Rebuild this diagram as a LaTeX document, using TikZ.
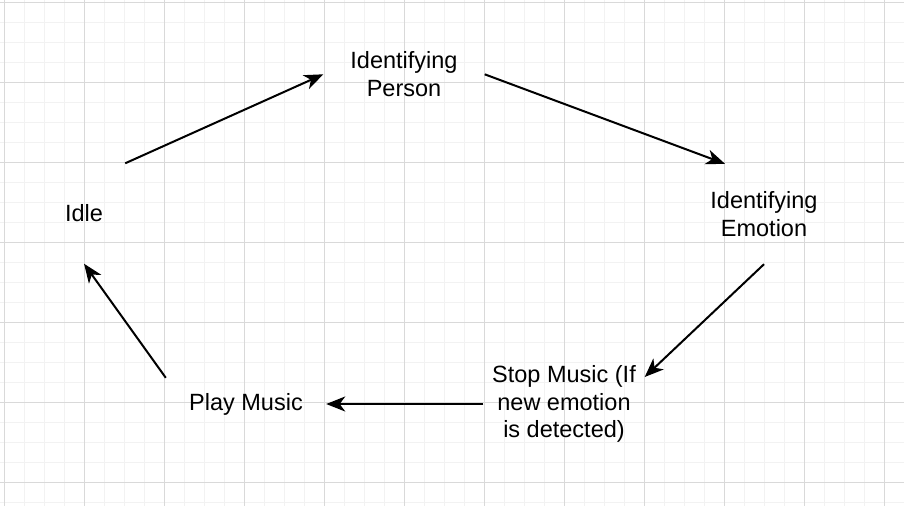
\documentclass[tikz,border=0pt]{standalone}
\usepackage{fontspec}
\setmainfont{Liberation Sans}
\usetikzlibrary{arrows.meta}
\tikzset{
	phase/.style={align=center, inner sep=0pt, font=\fontsize{23.5}{27.7}\selectfont},
	flow/.style={line width=2pt, -{Stealth[length=19pt, width=15pt, inset=5.5pt]}},
	minorline/.style={line width=1pt, color=black!5},
	majorline/.style={line width=1pt, color=black!15}
}

\begin{document}
\begin{tikzpicture}[x=1pt, y=-1pt]
			%%%%% START %%%%%
			
			\fill[white] (0, 0) rectangle (904, 506);
			\useasboundingbox (0, 0) rectangle (904, 506);
			
			\foreach \gx in {4,24,...,904} \draw[minorline] (\gx, 0) -- (\gx, 506);
			\foreach \gy in {2,22,...,502} \draw[minorline] (0, \gy) -- (904, \gy);
			\foreach \gx in {4,84,...,884} \draw[majorline] (\gx, 0) -- (\gx, 506);
			\foreach \gy in {2,82,...,482} \draw[majorline] (0, \gy) -- (904, \gy);
			
			\node[phase, minimum width=82pt, minimum height=100pt] (idle) at (84, 213.5) {Idle};
			\node[phase, minimum width=161pt] (person) at (404, 74.3) {Identifying\\Person};
			\node[phase, minimum height=100pt] (emotion) at (764, 214) {Identifying\\Emotion};
			\node[phase, minimum width=161pt] (stop) at (564, 404) {Stop Music (If\\new emotion\\is detected)};
			\node[phase, minimum width=160pt, minimum height=52pt] (play) at (246, 404) {Play Music};
			
			\draw[flow] (idle.north east) -- (person.west);
			\draw[flow] (person.east) -- ([xshift=-39pt]emotion.north);
			\draw[flow] (emotion.south) -- ([yshift=27pt]stop.east);
			\draw[flow] (stop.west) -- (play.east);
			\draw[flow] (play.north west) -- (idle.south);
			
			%%%%% END %%%%%
\end{tikzpicture}
\end{document}
